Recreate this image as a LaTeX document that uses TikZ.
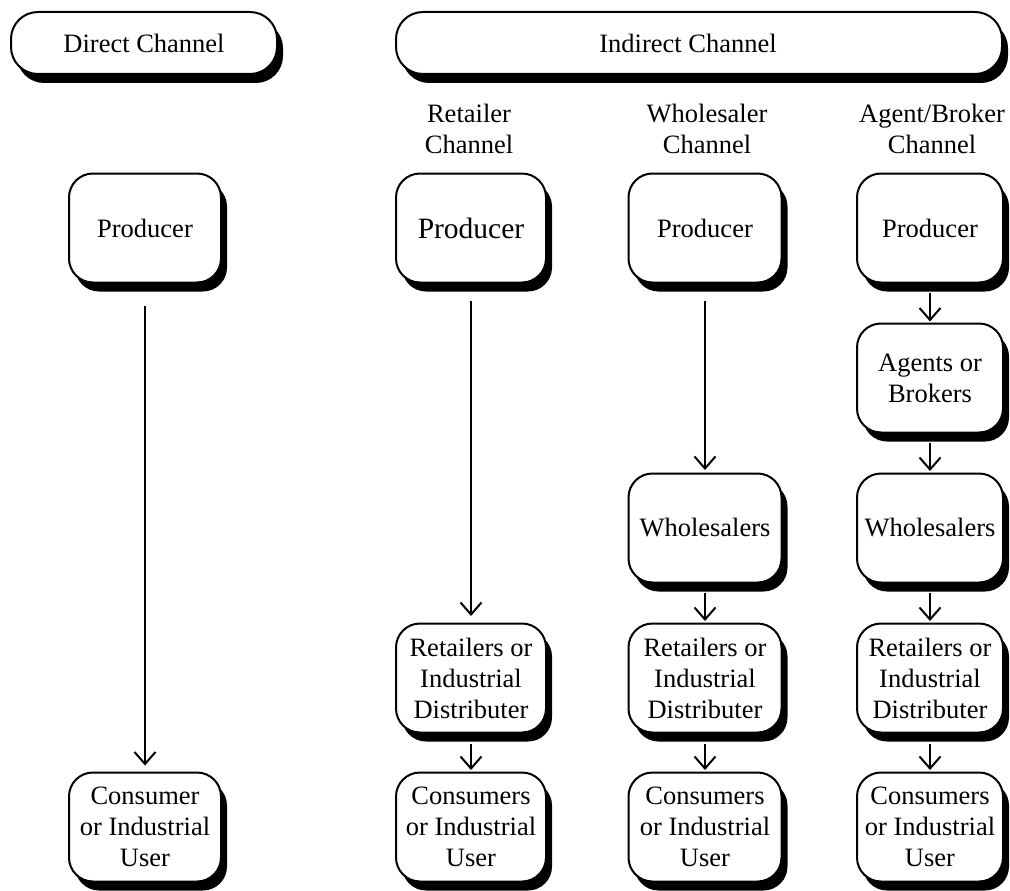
\documentclass[tikz,border=0pt]{standalone}
\usepackage{fontspec}
\setmainfont{Liberation Serif}
\usetikzlibrary{arrows.meta,shadows}
\begin{document}
\begin{tikzpicture}[x=1pt,y=-1pt,
  every node/.style={font=\fontsize{26.5}{31}\selectfont},
  shadowed/.style={draw=black, line width=2pt, fill=white,
    drop shadow={shadow xshift=6pt,shadow yshift=-9pt,fill=black,opacity=1}},
  header/.style={shadowed, rounded corners=27pt, minimum height=62pt, inner sep=0pt},
  stagebox/.style={shadowed, rounded corners=24pt, minimum height=109pt,
    align=center, inner sep=0pt},
  heading/.style={align=center, inner sep=0pt},
  flow/.style={line width=2pt, shorten <=9pt, shorten >=1.5pt,
    -{Straight Barb[length=12pt,width=21pt]}}
]
\useasboundingbox (0,0) rectangle (1010,891);

% channel headers
\node[header, minimum width=266pt] (direct) at (144,43) {Direct Channel};
\node[header, minimum width=606pt] (indirect) at (699,43) {};
\node (indirectlabel) at (688,43) {Indirect Channel};

% column headings
\node[heading] (retailerhead) at (469,129) {Retailer\\Channel};
\node[heading] (wholesalerhead) at (707,129) {Wholesaler\\Channel};
\node[heading] (agenthead) at (932,129) {Agent/Broker\\Channel};

% direct channel
\node[stagebox, minimum width=152pt] (dprod) at (145,228) {Producer};
\node[stagebox, minimum width=152pt] (dcons) at (145,827) {Consumer\\or Industrial\\User};

% retailer channel
\node[stagebox, minimum width=150pt, font=\fontsize{29.5}{31}\selectfont] (rprod) at (471,228) {Producer};
\node[stagebox, minimum width=150pt] (rret) at (471,678) {Retailers or\\Industrial\\Distributer};
\node[stagebox, minimum width=150pt] (rcons) at (471,827) {Consumers\\or Industrial\\User};

% wholesaler channel
\node[stagebox, minimum width=153pt] (wprod) at (705,228) {Producer};
\node[stagebox, minimum width=153pt] (wwhole) at (705,528) {Wholesalers};
\node[stagebox, minimum width=153pt] (wret) at (705,678) {Retailers or\\Industrial\\Distributer};
\node[stagebox, minimum width=153pt] (wcons) at (705,827) {Consumers\\or Industrial\\User};

% agent/broker channel
\node[stagebox, minimum width=146pt] (aprod) at (930,228) {Producer};
\node[stagebox, minimum width=146pt] (aagent) at (930,378) {Agents or\\Brokers};
\node[stagebox, minimum width=146pt] (awhole) at (930,528) {Wholesalers};
\node[stagebox, minimum width=146pt] (aret) at (930,678) {Retailers or\\Industrial\\Distributer};
\node[stagebox, minimum width=146pt] (acons) at (930,827) {Consumers\\or Industrial\\User};

% flows
\draw[flow, shorten <=22pt, shorten >=6pt] (dprod) -- (dcons);

\draw[flow, shorten <=17.5pt, shorten >=6.5pt] (rprod) -- (rret);
\draw[flow, shorten <=10.5pt] (rret) -- (rcons);

\draw[flow, shorten <=17.5pt, shorten >=2.5pt] (wprod) -- (wwhole);
\draw[flow] (wwhole) -- (wret);
\draw[flow, shorten <=10.5pt] (wret) -- (wcons);

\draw[flow, shorten >=1pt] (aprod) -- (aagent);
\draw[flow] (aagent) -- (awhole);
\draw[flow] (awhole) -- (aret);
\draw[flow, shorten <=10.5pt] (aret) -- (acons);
\end{tikzpicture}
\end{document}
